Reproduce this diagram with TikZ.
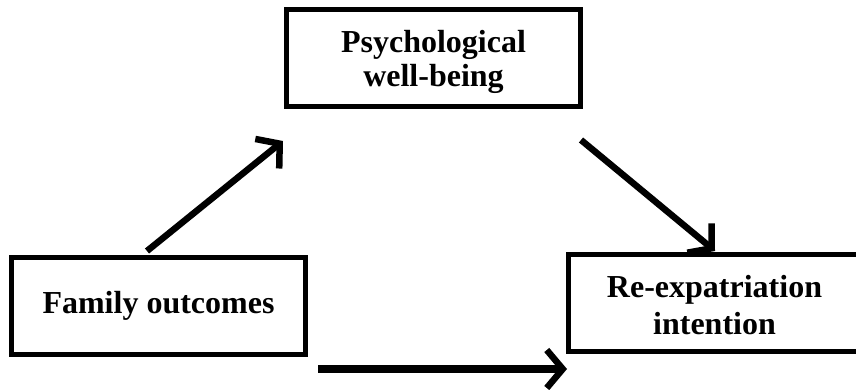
\documentclass[tikz,border=0pt]{standalone}
\usepackage{fontspec}
\setmainfont{Liberation Serif}
\usetikzlibrary{arrows.meta}
\begin{document}
\begin{tikzpicture}[x=1pt,y=-1pt,
  box/.style={draw,line width=5pt,rectangle,minimum width=294pt,minimum height=97pt,inner sep=0pt,align=center,font=\bfseries\fontsize{32}{35}\selectfont},
  conn/.style={line width=6.5pt,-{Straight Barb[length=16pt,width=38pt,line width=6.5pt]}}]
\useasboundingbox (0,0) rectangle (856,390);
\clip (0,0) rectangle (856,390);
\fill[white] (0,0) rectangle (856,390);
\node[box] (pwb) at (433.5,58) {};
\node[align=center,font=\bfseries\fontsize{32}{34}\selectfont] (pwbt) at (433.5,62) {Psychological\\well-being};
\node[box] (fam) at (158.5,306) {Family outcomes};
\node[box] (rei) at (715.5,302.5) {};
\node[align=center,font=\bfseries\fontsize{32}{37}\selectfont] (reit) at (714.5,305) {Re-expatriation\\intention};
\coordinate (a1s) at (147,251);
\coordinate (a1e) at (283,141);
\coordinate (a2s) at (581,140);
\coordinate (a2e) at (715,251);
\coordinate (a3s) at (318,369);
\coordinate (a3e) at (567,369);
\draw[conn] (a1s) -- (a1e);
\draw[conn] (a2s) -- (a2e);
\draw[conn,line width=7.5pt] (a3s) -- (a3e);
\end{tikzpicture}
\end{document}
